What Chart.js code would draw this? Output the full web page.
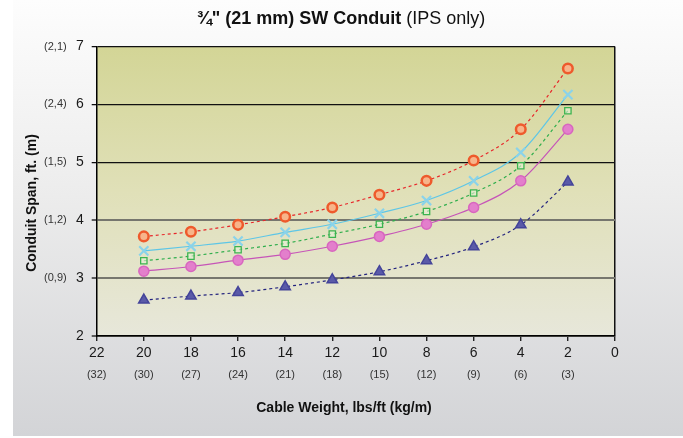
<!DOCTYPE html>
<html>
<head>
<meta charset="utf-8">
<script src="https://cdn.jsdelivr.net/npm/chart.js@4/dist/chart.umd.min.js"></script>
<style>
  html, body { margin: 0; padding: 0; background: #fff; }
</style>
</head>
<body>
<canvas id="conduitSpan" width="683" height="438"></canvas>
<script>
// cable weight, lbs/ft (x positions of the marks)
const weights = [20, 18, 16, 14, 12, 10, 8, 6, 4, 2];
// conduit span, ft - one array per curve
const spanRed = [3.72, 3.80, 3.92, 4.06, 4.22, 4.44, 4.68, 5.03, 5.57, 6.62];
const spanCyan = [3.47, 3.55, 3.64, 3.79, 3.93, 4.12, 4.34, 4.68, 5.17, 6.17];
const spanGreen = [3.30, 3.38, 3.49, 3.60, 3.76, 3.93, 4.15, 4.47, 4.94, 5.89];
const spanPink = [3.12, 3.20, 3.31, 3.41, 3.55, 3.72, 3.93, 4.22, 4.68, 5.57];
const spanNavy = [2.62, 2.69, 2.75, 2.85, 2.97, 3.11, 3.30, 3.54, 3.92, 4.66];
// tick labels
const xTickValues = [22, 20, 18, 16, 14, 12, 10, 8, 6, 4, 2, 0];
const kgTickLabels = ["(32)", "(30)", "(27)", "(24)", "(21)", "(18)", "(15)", "(12)", "(9)", "(6)", "(3)", ""];
const yTickValues = [2, 3, 4, 5, 6, 7];
const metreTickLabels = ["", "(0,9)", "(1,2)", "(1,5)", "(2,4)", "(2,1)"];

const FONT = "'Liberation Sans', Arial, sans-serif";

function toPoints(values) {
  let pts = [];
  for (let i = 0; i < weights.length; i++) {
    pts.push({ x: weights[i], y: values[i] });
  }
  return pts;
}

const backdrop = {
  id: "backdrop",
  beforeDraw(chart) {
    const c = chart.ctx;
    const a = chart.chartArea;
    c.save();
    c.fillStyle = "#ffffff";
    c.fillRect(0, 0, chart.width, chart.height);
    let g = c.createLinearGradient(0, 0, 0, 436);
    g.addColorStop(0, "#fdfdfd");
    g.addColorStop(0.45, "#ececec");
    g.addColorStop(1, "#d3d4d7");
    c.fillStyle = g;
    c.fillRect(13, 0, chart.width - 13, 436);
    let p = c.createLinearGradient(0, a.top, 0, a.bottom);
    p.addColorStop(0, "#d3d596");
    p.addColorStop(0.5, "#e0e0b8");
    p.addColorStop(1, "#e7e7da");
    c.fillStyle = p;
    c.fillRect(a.left, a.top, a.right - a.left, a.bottom - a.top);
    c.restore();
  },
  afterDraw(chart) {
    const c = chart.ctx;
    c.save();
    c.fillStyle = "#111";
    c.textBaseline = "alphabetic";
    c.textAlign = "left";
    const t1 = "\u00BE\" (21 mm) SW Conduit";
    const t2 = " (IPS only)";
    c.font = "bold 18px " + FONT;
    let w1 = c.measureText(t1).width;
    c.font = "18px " + FONT;
    let w2 = c.measureText(t2).width;
    let x0 = 341 - (w1 + w2) / 2;
    c.font = "bold 18px " + FONT;
    c.fillText(t1, x0, 24);
    c.font = "18px " + FONT;
    c.fillText(t2, x0 + w1, 24);
    // axis titles
    c.font = "bold 14px " + FONT;
    c.textAlign = "center";
    c.textBaseline = "middle";
    c.fillText("Cable Weight, lbs/ft (kg/m)", 344, 408);
    c.translate(32, 203);
    c.rotate(-Math.PI / 2);
    c.fillText("Conduit Span, ft. (m)", 0, 0);
    c.restore();
  },
};

let chartSpan = new Chart("conduitSpan", {
  type: "line",
  plugins: [backdrop],
  data: {
    datasets: [
      {
        data: toPoints(spanRed),
        borderColor: "#e8262a",
        borderWidth: 1.2,
        borderDash: [3, 3],
        pointStyle: "circle",
        pointRadius: 4.8,
        pointBorderWidth: 2.5,
        pointBorderColor: "#ee5a2c",
        pointBackgroundColor: "#f7b48a",
      },
      {
        data: toPoints(spanCyan),
        borderColor: "#5ec6e6",
        borderWidth: 1.2,
        pointStyle: "crossRot",
        pointRadius: 6.5,
        pointBorderWidth: 2.2,
        pointBorderColor: "#8ad3ea",
        pointBackgroundColor: "#8ad3ea",
      },
      {
        data: toPoints(spanGreen),
        borderColor: "#2fae4c",
        borderWidth: 1.2,
        borderDash: [3, 3],
        pointStyle: "rect",
        pointRadius: 4.5,
        pointBorderWidth: 1.3,
        pointBorderColor: "#3cb450",
        pointBackgroundColor: "rgba(230,240,215,0.6)",
      },
      {
        data: toPoints(spanPink),
        borderColor: "#c655b8",
        borderWidth: 1.2,
        pointStyle: "circle",
        pointRadius: 5,
        pointBorderWidth: 1.5,
        pointBorderColor: "#d866bf",
        pointBackgroundColor: "#e37fcc",
      },
      {
        data: toPoints(spanNavy),
        borderColor: "#23237e",
        borderWidth: 1.2,
        borderDash: [3, 3],
        pointStyle: "triangle",
        pointRadius: 6,
        pointBorderWidth: 1.5,
        pointBorderColor: "#44449a",
        pointBackgroundColor: "#5a5aa8",
      },
    ].map((d) => Object.assign(d, {
      xAxisID: "x",
      yAxisID: "y",
      fill: false,
      cubicInterpolationMode: "monotone",
    })),
  },
  options: {
    responsive: false,
    animation: false,
    devicePixelRatio: 1,
    layout: {
      padding: { top: 46.5, right: 68, bottom: 0, left: 0 },
    },
    plugins: {
      legend: { display: false },
      tooltip: { enabled: false },
      title: { display: false },
    },
    scales: {
      x: {
        type: "linear",
        axis: "x",
        position: "bottom",
        reverse: true,
        min: 0,
        max: 22,
        weight: 0,
        afterBuildTicks: (axis) => {
          axis.ticks = xTickValues.map((v) => ({ value: v }));
        },
        ticks: {
          autoSkip: false,
          maxRotation: 0,
          padding: 4,
          color: "#1a1a1a",
          font: { family: FONT, size: 14 },
        },
        grid: {
          drawOnChartArea: true,
          color: (ctx) => (ctx.tick && ctx.tick.value === 0 ? "#111" : "rgba(0,0,0,0)"),
          lineWidth: 1.5,
          tickLength: 5,
          tickColor: "#000",
          tickWidth: 1.2,
        },
        border: { color: "#000", width: 1.5 },
        afterFit: (axis) => {
          axis.height = 28;
        },
      },
      x2: {
        type: "linear",
        axis: "x",
        position: "bottom",
        reverse: true,
        min: 0,
        max: 22,
        weight: 1,
        afterBuildTicks: (axis) => {
          axis.ticks = xTickValues.map((v) => ({ value: v }));
        },
        ticks: {
          autoSkip: false,
          maxRotation: 0,
          padding: 4,
          color: "#333",
          font: { family: FONT, size: 11 },
          callback: (v) => kgTickLabels[xTickValues.indexOf(v)],
        },
        grid: { display: false, drawTicks: false },
        border: { display: false },
        afterFit: (axis) => {
          axis.height = 74;
        },
      },
      y: {
        type: "linear",
        axis: "y",
        position: "left",
        min: 2,
        max: 7,
        weight: 0,
        afterBuildTicks: (axis) => {
          axis.ticks = yTickValues.map((v) => ({ value: v }));
        },
        ticks: {
          padding: 8,
          color: "#1a1a1a",
          font: { family: FONT, size: 14 },
        },
        grid: {
          color: (ctx) => (ctx.tick && ctx.tick.value >= 5 ? "#111" : "#76766e"),
          lineWidth: (ctx) => (ctx.tick && ctx.tick.value >= 5 ? 1.3 : 2),
          tickLength: 5,
          tickColor: "#000",
          tickWidth: 1.2,
        },
        border: { color: "#000", width: 1.5 },
        afterFit: (axis) => {
          axis.width = 30;
        },
      },
      y2: {
        type: "linear",
        axis: "y",
        position: "left",
        min: 2,
        max: 7,
        weight: 1,
        afterBuildTicks: (axis) => {
          axis.ticks = yTickValues.map((v) => ({ value: v }));
        },
        ticks: {
          padding: 0,
          color: "#333",
          font: { family: FONT, size: 11 },
          callback: (v) => metreTickLabels[yTickValues.indexOf(v)],
        },
        grid: { display: false, drawTicks: false },
        border: { display: false },
        afterFit: (axis) => {
          axis.width = 66.7;
        },
      },
    },
  },
});
</script>
</body>
</html>
